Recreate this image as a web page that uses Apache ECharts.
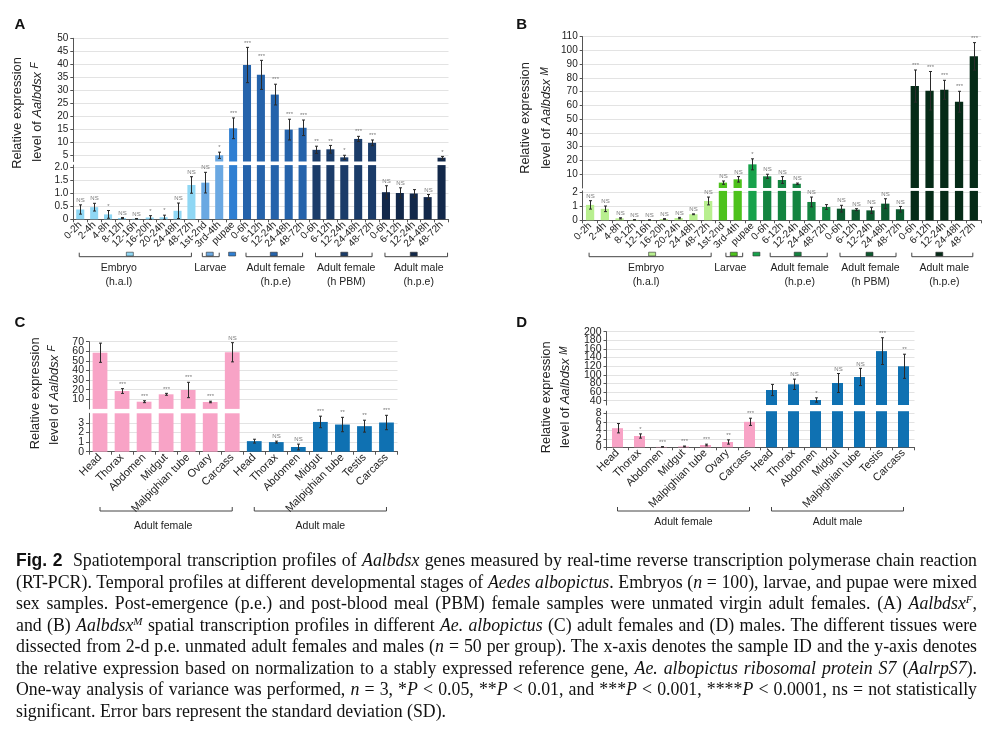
<!DOCTYPE html>
<html><head><meta charset="utf-8">
<script src="https://cdn.jsdelivr.net/npm/echarts@6/dist/echarts.min.js"></script>
<style>
html,body{margin:0;padding:0;background:#fff;}
#wrap{position:relative;width:992px;height:739px;overflow:hidden;background:#fff;}
#chart{position:absolute;left:0;top:0;width:992px;height:739px;}
#cap{position:absolute;left:16px;top:550px;width:961px;font-family:"Liberation Serif","Times New Roman",serif;font-size:17.8px;line-height:21.52px;color:#111;}
#cap .l{white-space:nowrap;}
#cap .fig{font-family:"Liberation Sans",Arial,sans-serif;font-weight:bold;font-size:17.5px;margin-right:5px;}
#cap sup{font-size:0.62em;line-height:0;vertical-align:0.5em;}
</style></head>
<body><div id="wrap"><div id="chart"></div>
<div id="cap">
<div class="l"><span><b class="fig">Fig. 2</b> Spatiotemporal transcription profiles of <i>Aalbdsx</i> genes measured by real-time reverse transcription polymerase chain reaction</span></div>
<div class="l"><span>(RT-PCR). Temporal profiles at different developmental stages of <i>Aedes albopictus</i>. Embryos (<i>n</i> = 100), larvae, and pupae were mixed</span></div>
<div class="l"><span>sex samples. Post-emergence (p.e.) and post-blood meal (PBM) female samples were unmated virgin adult females. (A) <i>Aalbdsx<sup>F</sup></i>,</span></div>
<div class="l"><span>and (B) <i>Aalbdsx<sup>M</sup></i> spatial transcription profiles in different <i>Ae. albopictus</i> (C) adult females and (D) males. The different tissues were</span></div>
<div class="l"><span>dissected from 2-d p.e. unmated adult females and males (<i>n</i> = 50 per group). The x-axis denotes the sample ID and the y-axis denotes</span></div>
<div class="l"><span>the relative expression based on normalization to a stably expressed reference gene, <i>Ae. albopictus ribosomal protein S7</i> (<i>AalrpS7</i>).</span></div>
<div class="l"><span>One-way analysis of variance was performed, <i>n</i> = 3, *<i>P</i> &lt; 0.05, **<i>P</i> &lt; 0.01, and ***<i>P</i> &lt; 0.001, ****<i>P</i> &lt; 0.0001, ns = not statistically</span></div>
<div class="last"><span>significant. Error bars represent the standard deviation (SD).</span></div>
</div></div>
<script>
// ---------------- DATA ----------------
// Panel A: Aalbdsx F, developmental stages
const catsA = ['0-2h','2-4h','4-8h','8-12h','12-16h','16-20h','20-24h','24-48h','48-72h','1st-2nd','3rd-4th','pupae','0-6h','6-12h','12-24h','24-48h','48-72h','0-6h','6-12h','12-24h','24-48h','48-72h','0-6h','6-12h','12-24h','24-48h','48-72h'];
const valsA = [0.38,0.47,0.19,0.05,0.02,0.07,0.08,0.33,1.33,1.42,4.9,15.3,39.7,35.9,28.3,14.8,15.5,7.0,7.2,4.1,11.2,9.7,1.05,1.02,1.0,0.86,3.96];
const errA  = [0.18,0.15,0.15,0.02,0.01,0.07,0.08,0.3,0.32,0.4,1.2,4.0,6.8,5.6,4.0,4.0,3.0,1.4,1.5,0.8,1.0,1.1,0.25,0.2,0.15,0.1,0.5];
const sigA  = ['NS','NS','*','NS','NS','*','*','NS','NS','NS','*','***','***','***','***','***','***','**','**','*','***','***','NS','NS','','NS','*'];
const groupsA = [
  {from:0,to:8,lines:['Embryo','(h.a.l)'],bracket:true,marker:true},
  {from:9,to:10,lines:['Larvae'],bracket:true,marker:true},
  {from:11,to:11,lines:[],bracket:false,marker:true},
  {from:12,to:16,lines:['Adult female','(h.p.e)'],bracket:true,marker:true},
  {from:17,to:21,lines:['Adult female','(h PBM)'],bracket:true,marker:true},
  {from:22,to:26,lines:['Adult male','(h.p.e)'],bracket:true,marker:true}
];
const yTicksAUp = [5,10,15,20,25,30,35,40,45,50];
const yTicksALo = [0,0.5,1.0,1.5,2.0];

// Panel B: Aalbdsx M, developmental stages
const catsB = catsA.slice();
const valsB = [1.1,0.82,0.14,0.03,0.02,0.09,0.16,0.43,1.38,3.9,6.3,17.2,8.5,5.8,3.1,1.31,0.95,0.83,0.76,0.71,1.19,0.79,74.1,70.7,71.4,62.7,95.7];
const errB  = [0.3,0.2,0.04,0.01,0.01,0.03,0.05,0.03,0.28,1.2,2.0,4.0,1.5,2.5,0.5,0.35,0.17,0.24,0.07,0.22,0.35,0.2,11.7,14,6.9,7.6,10];
const sigB  = ['NS','NS','NS','NS','NS','NS','NS','NS','NS','NS','NS','*','NS','NS','NS','NS','','NS','NS','NS','NS','NS','***','***','***','***','***'];
const groupsB = groupsA;
const yTicksBUp = [10,20,30,40,50,60,70,80,90,100,110];
const yTicksBLo = [0,1,2];

// Panel C: Aalbdsx F, tissues
const catsC = ['Head','Thorax','Abdomen','Midgut','Malpighian tube','Ovary','Carcass','Head','Thorax','Abdomen','Midgut','Malpighian tube','Testis','Carcass'];
const valsC = [58.5,18.6,7.5,15.2,19.7,7.2,59,1.1,1.0,0.49,3.1,2.83,2.66,3.04];
const errC  = [10,2.5,1,1,8,0.8,10,0.2,0.1,0.3,0.6,0.75,0.62,0.75];
const sigC  = ['','***','***','***','***','***','NS','','NS','NS','***','**','**','***'];
const groupsC = [
  {from:0,to:6,lines:['Adult female'],bracket:true,marker:false},
  {from:7,to:13,lines:['Adult male'],bracket:true,marker:false}
];
const yTicksCUp = [10,20,30,40,50,60,70];
const yTicksCLo = [0,1,2,3];

// Panel D: Aalbdsx M, tissues
const catsD = catsC.slice();
const valsD = [4.5,2.66,0.1,0.2,0.54,1.25,6.0,64.8,78,41.6,81,95,155,119.8];
const errD  = [1.1,0.5,0.05,0.1,0.2,0.5,0.85,13,12,5,22,20,31,28];
const sigD  = ['','*','***','***','***','**','***','','NS','*','NS','NS','***','**'];
const groupsD = groupsC;
const yTicksDUp = [40,60,80,100,120,140,160,180,200];
const yTicksDLo = [0,2,4,6,8];

// ---------------- STYLE / LAYOUT ----------------
const colorsA = ['#8fd7f4','#6aa8e2','#2f7fd2','#2563ab','#1b3c69','#12284a'];
const colorsB = ['#b8ef8f','#4dc21c','#17a24b','#138440','#0c5a2f','#052b17'];
const colorsCD = ['#f8a3c6','#0f71b2'];

const panels = [
  {cats:catsA, vals:valsA, errs:errA, sigs:sigA, groups:groupsA, colors:colorsA,
   upMin:2.5, upMax:50, upStep:2.5, upTicks:yTicksAUp, loMax:2.1, loStep:0.5, loTicks:yTicksALo,
   loFmt:v=>v===0?'0':v.toFixed(1),
   L:{left:73.3,width:375.2,upTop:38.3,upBot:161.5,loTop:165.1,loBot:219.3,barW:'58%',xFont:10,yFont:10,
      brY:256.7,labY:[268.3,281.7],textDx:[-17,-2,0,1,2,5],mkDx:[-6,-2.5,-1,-1,0,0],brExt:[[-1,0],[-3,0],[0,0],[-1,0],[-1,0],[-1,6]],
      letter:[20,25],'t1':[17,113],'t2':[37,112]}, title:'F'},
  {cats:catsB, vals:valsB, errs:errB, sigs:sigB, groups:groupsB, colors:colorsB,
   upMin:0, upMax:110, upStep:10, upTicks:yTicksBUp, loMax:2.1, loStep:1, loTicks:yTicksBLo,
   loFmt:v=>String(v),
   L:{left:582.7,width:398.5,upTop:36.7,upBot:188,loTop:190.9,loBot:220.3,barW:'56%',xFont:10,yFont:10,
      brY:256.7,labY:[268,282],textDx:[-3,0,0,3,0,0],mkDx:[3,3.5,4,1,-1,-5],brExt:[[-1,3],[3,5],[0,0],[3,1],[-1,-4],[-3,-1]],
      letter:[521.7,25],'t1':[525,118],'t2':[546.7,118]}, title:'M'},
  {cats:catsC, vals:valsC, errs:errC, sigs:sigC, groups:groupsC, colors:colorsCD,
   upMin:0, upMax:70, upStep:10, upTicks:yTicksCUp, loMax:4, loStep:1, loTicks:yTicksCLo,
   loFmt:v=>String(v),
   L:{left:89,width:308.5,upTop:341.7,upBot:408.9,loTop:413.3,loBot:451.7,barW:'67%',xFont:11,yFont:10.5,
      brY:511,labY:[526],textDx:[-3,0],mkDx:[0,0],brExt:[[0,0],[0,0]],
      letter:[20,323.3],'t1':[35,393.3],'t2':[54,395]}, title:'F'},
  {cats:catsD, vals:valsD, errs:errD, sigs:sigD, groups:groupsD, colors:colorsCD,
   upMin:30, upMax:200, upStep:10, upTicks:yTicksDUp, loMax:8.5, loStep:2, loTicks:yTicksDLo,
   loFmt:v=>String(v),
   L:{left:606.5,width:308,upTop:331.7,upBot:405,loTop:411.2,loBot:447.3,barW:'50%',xFont:11,yFont:10.5,
      brY:511,labY:[522.5],textDx:[0,0],mkDx:[0,0],brExt:[[0,0],[0,0]],
      letter:[521.7,323.3],'t1':[546.7,397.3],'t2':[565.7,397.3]}, title:'M'}
];
const letters = ['A','B','C','D'];
const FONT = '"Liberation Sans", Arial, sans-serif';
const AX = '#555', GRIDC = '#e3e3e3', TXT = '#222';

const grids = [], xAxes = [], yAxes = [], series = [];

function errRenderer(sigs, yMin) {
  return function (params, api) {
    const i = api.value(0), v = api.value(1), e = api.value(2);
    const lo = Math.max(v - e, yMin);
    const pT = api.coord([i, v + e]);
    const pB = api.coord([i, lo]);
    const x = Math.round(pT[0]) + 0.5;
    const st = {stroke:'#2a2a2a', lineWidth:1};
    const ch = [
      {type:'line', shape:{x1:x,y1:pT[1],x2:x,y2:pB[1]}, style:st},
      {type:'line', shape:{x1:x-1.5,y1:pT[1],x2:x+1.5,y2:pT[1]}, style:st},
      {type:'line', shape:{x1:x-1.5,y1:pB[1],x2:x+1.5,y2:pB[1]}, style:st}
    ];
    const s = sigs[i];
    if (s) ch.push({type:'text', x:x, y:pT[1]-1.5,
      style:{text:s, fontSize:6, fill:'#777', align:'center', verticalAlign:'bottom', fontFamily:FONT}});
    return {type:'group', children:ch};
  };
}

panels.forEach((P, k) => {
  const L = P.L, gU = 2*k, gL = 2*k+1;
  const colorOf = i => P.colors[P.groups.findIndex(g => i >= g.from && i <= g.to)];
  grids.push({left:L.left, width:L.width, top:L.upTop, height:L.upBot-L.upTop, containLabel:false, outerBoundsMode:'none'});
  grids.push({left:L.left, width:L.width, top:L.loTop, height:L.loBot-L.loTop, containLabel:false, outerBoundsMode:'none'});
  xAxes.push({type:'category', gridIndex:gU, data:P.cats, show:false});
  xAxes.push({type:'category', gridIndex:gL, data:P.cats,
    axisLine:{show:true, lineStyle:{color:AX, width:1}},
    axisTick:{show:true, length:3, alignWithLabel:false, lineStyle:{color:AX}},
    axisLabel:{rotate:45, interval:0, fontSize:L.xFont, color:TXT, margin:4, fontFamily:FONT, hideOverlap:false},
    splitLine:{show:false}});
  yAxes.push({type:'value', gridIndex:gU, min:P.upMin, max:P.upMax, interval:P.upStep,
    axisLine:{show:true, lineStyle:{color:AX}},
    axisTick:{show:true, length:3, customValues:P.upTicks, lineStyle:{color:AX}},
    axisLabel:{show:false, customValues:P.upTicks},
    splitLine:{show:true, lineStyle:{color:GRIDC, width:1}}});
  yAxes.push({type:'value', gridIndex:gL, min:0, max:P.loMax, interval:P.loStep,
    axisLine:{show:true, lineStyle:{color:AX}},
    axisTick:{show:true, length:3, customValues:P.loTicks, lineStyle:{color:AX}},
    axisLabel:{show:false, customValues:P.loTicks},
    splitLine:{show:true, lineStyle:{color:GRIDC, width:1}}});
  // bars
  series.push({type:'bar', xAxisIndex:gU, yAxisIndex:gU, barWidth:L.barW, clip:true, silent:true,
    data:P.vals.map((v,i) => v > P.loMax ? {value:v, itemStyle:{color:colorOf(i)}} : '-')});
  series.push({type:'bar', xAxisIndex:gL, yAxisIndex:gL, barWidth:L.barW, clip:true, silent:true,
    data:P.vals.map((v,i) => ({value:v, itemStyle:{color:colorOf(i)}}))});
  // error bars + significance
  const up = [], lo = [];
  P.vals.forEach((v,i) => (v > P.loMax ? up : lo).push([i, v, P.errs[i]]));
  series.push({type:'custom', xAxisIndex:gU, yAxisIndex:gU, z:5, clip:false, silent:true,
    renderItem:errRenderer(P.sigs, P.upMin), data:up});
  series.push({type:'custom', xAxisIndex:gL, yAxisIndex:gL, z:5, clip:false, silent:true,
    renderItem:errRenderer(P.sigs, 0), data:lo});
});

const chart = echarts.init(document.getElementById('chart'), null, {renderer:'canvas'});
chart.setOption({
  animation:false, backgroundColor:'#fff',
  textStyle:{fontFamily:FONT},
  grid:grids, xAxis:xAxes, yAxis:yAxes, series:series
});

// annotations positioned from the axes
const gfx = [];
panels.forEach((P, k) => {
  const L = P.L;
  const px = i => chart.convertToPixel({xAxisIndex:2*k+1}, i);
  // y tick labels through the value axes
  const yl = (axisIdx, ticks, fmt) => ticks.forEach(v => {
    gfx.push({type:'text', x:L.left-5, y:chart.convertToPixel({yAxisIndex:axisIdx}, v),
      style:{text:fmt ? fmt(v) : String(v), fontSize:L.yFont, fill:TXT, align:'right', verticalAlign:'middle', fontFamily:FONT}});
  });
  yl(2*k, P.upTicks);
  yl(2*k+1, P.loTicks, P.loFmt);
  gfx.push({type:'text', x:L.letter[0], y:L.letter[1],
    style:{text:letters[k], fontSize:15, fontWeight:'bold', fill:'#111', align:'center', verticalAlign:'middle', fontFamily:FONT}});
  gfx.push({type:'text', x:L.t1[0], y:L.t1[1], rotation:Math.PI/2,
    style:{text:'Relative expression', fontSize:12.8, fill:TXT, align:'center', verticalAlign:'middle', fontFamily:FONT}});
  gfx.push({type:'text', x:L.t2[0], y:L.t2[1], rotation:Math.PI/2,
    style:{text:'{a|level of }{b|Aalbdsx }{c|' + P.title + '}', align:'center', verticalAlign:'middle',
      rich:{a:{fontSize:12.8, fill:TXT, fontFamily:FONT},
            b:{fontSize:12.8, fill:TXT, fontStyle:'italic', fontFamily:FONT},
            c:{fontSize:10, fill:TXT, fontStyle:'italic', fontFamily:FONT, verticalAlign:'top'}}}});
  P.groups.forEach((g, j) => {
    const x1 = px(g.from) + L.brExt[j][0], x2 = px(g.to) + L.brExt[j][1];
    const mid = (px(g.from) + px(g.to)) / 2;
    const y = L.brY;
    if (g.bracket) gfx.push({type:'polyline', shape:{points:[[x1,y-4],[x1,y],[x2,y],[x2,y-4]]},
      style:{stroke:'#444', lineWidth:1, fill:null}});
    if (g.marker) gfx.push({type:'rect', shape:{x:mid+L.mkDx[j]-3.5, y:y-4.5, width:7, height:3.8},
      style:{fill:P.colors[j], stroke:'#333', lineWidth:0.6}});
    g.lines.forEach((t, n) => gfx.push({type:'text', x:mid+L.textDx[j], y:L.labY[n],
      style:{text:t, fontSize:10.5, fill:TXT, align:'center', verticalAlign:'middle', fontFamily:FONT}}));
  });
});
chart.setOption({graphic:{elements:gfx}});

// justify caption lines exactly to the column width
const CW = 961;
document.querySelectorAll('#cap .l').forEach(el => {
  const sp = el.querySelector('span');
  const w = sp.getBoundingClientRect().width;
  const n = (sp.textContent.match(/ /g) || []).length;
  if (n) sp.style.wordSpacing = ((CW - w) / n) + 'px';
});
</script>
</body></html>
